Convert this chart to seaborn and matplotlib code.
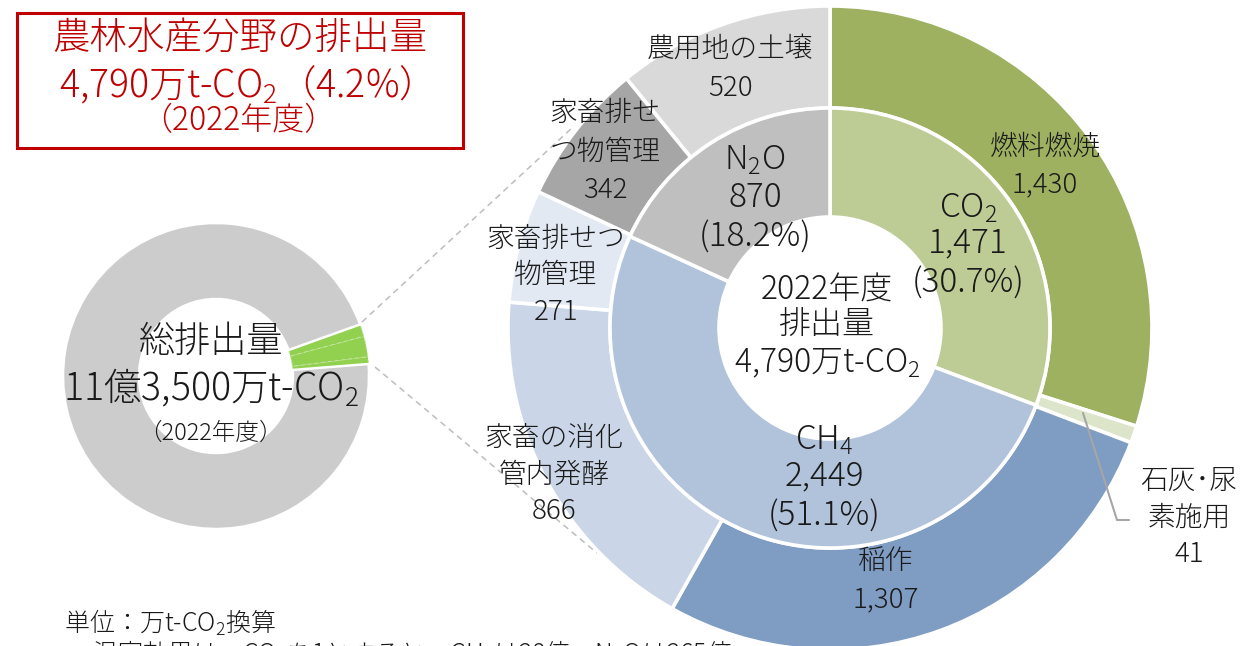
import matplotlib
matplotlib.use('Agg')
import matplotlib.pyplot as plt
import seaborn as sns
from matplotlib.patches import Rectangle

# 単位：万t-CO2換算, 2022年度
national_total = 113500
agri_total = 4790
agri_share = '4.2%'
gas_names = ['CO$_2$', 'CH$_4$', 'N$_2$O']
gas_values = [1471, 2449, 870]
gas_shares = ['30.7%', '51.1%', '18.2%']
source_names = ['燃料燃焼', '石灰･尿\n素施用', '稲作', '家畜の消化\n管内発酵',
                '家畜排せつ\n物管理', '家畜排せ\nつ物管理', '農用地の土壌']
source_values = [1430, 41, 1307, 866, 271, 342, 520]

# colours
gas_colors = ['#BDCB95', '#B0C3DB', '#BFBFBF']
source_colors = ['#9DB160', '#DCE4CA', '#7F9CC2', '#CAD6E7', '#E2E9F3', '#A6A6A6', '#D9D9D9']
left_green = '#92D050'
left_gray = '#CCCCCC'
red = '#C00000'

sns.set_theme(style='white')
plt.rcParams['font.family'] = ['Noto Sans CJK JP', 'DejaVu Sans']
plt.rcParams['font.weight'] = 'light'
plt.rcParams['mathtext.default'] = 'regular'

W, H = 1241, 646
fig = plt.figure(figsize=(W / 100, H / 100), dpi=100)
ax = fig.add_axes([0, 0, 1, 1])


def Y(y):
    return H - y


def lines(x, ys, texts, size, color='#1a1a1a'):
    for y, t in zip(ys, texts):
        ax.text(x, Y(y), t, ha='center', va='center', fontsize=size, color=color, zorder=10)


# left donut: national total with the agriculture share
left_c = (216, Y(376))
left_vals = [gas_values[2], gas_values[1], gas_values[0], national_total - agri_total]
wedges, _ = ax.pie(left_vals, radius=153, center=left_c, startangle=4.5, counterclock=True,
                   colors=[left_green] * 3 + [left_gray],
                   wedgeprops=dict(width=76, edgecolor='white', linewidth=1.8))
for w in wedges[:3]:
    w.set_edgecolor('#C6E6A4')
    w.set_linewidth(0.7)
    w.set_linestyle((0, (4, 3)))

# dashed connectors
ax.plot([362, 573], [Y(322), Y(127)], ls=(0, (4, 3)), color='#BDBDBD', lw=1.1, zorder=0)
ax.plot([375, 597], [Y(367), Y(553)], ls=(0, (4, 3)), color='#BDBDBD', lw=1.1, zorder=0)

# right nested donut
big_c = (830, Y(328))
ax.pie(source_values, radius=322, center=big_c, startangle=90, counterclock=False,
       colors=source_colors, wedgeprops=dict(width=102, edgecolor='white', linewidth=2.6))
ax.pie(gas_values, radius=220, center=big_c, startangle=90, counterclock=False,
       colors=gas_colors, wedgeprops=dict(width=109, edgecolor='white', linewidth=2.6))

# leader line for 石灰・尿素施用
ax.plot([1083, 1117, 1129], [Y(413), Y(520), Y(520)], color='#A6A6A6', lw=1.5, zorder=5)

# outer labels
fs_out = 20
src_pos = [(1045, [147, 184]), (1189, [481, 518, 554]), (886, [562, 599]),
           (554, [438, 475, 511]), (556, [239, 275, 312]), (605, [113, 152, 190]),
           (730, [49, 88])]
for name, val, (x, ys) in zip(source_names, source_values, src_pos):
    lines(x, ys, name.split('\n') + [f'{val:,}'], fs_out)

# inner labels
fs_in = 24
gas_pos = [(968, [208, 243, 283]), (824, [440, 476, 516]), (755, [160, 198, 237])]
for name, val, share, (x, ys) in zip(gas_names, gas_values, gas_shares, gas_pos):
    lines(x, ys, [name, f'{val:,}', f'({share})'], fs_in)

# centre text
lines(827, [290, 326, 363], ['2022年度', '排出量', f'{agri_total:,}万t-CO$_2$'], 23)

# left donut centre text
lines(211, [342], ['総排出量'], 26)
lines(211, [388], ['11億3,500万t-CO$_2$'], 27)
lines(210, [433], ['（2022年度）'], 17)

# title box
ax.add_patch(Rectangle((17, Y(148)), 446, 135, fill=False, edgecolor=red, lw=2.2, zorder=10))
lines(240, [38], ['農林水産分野の排出量'], 27, red)
lines(235, [85], [f'{agri_total:,}万t-CO$_2$（{agri_share}）'], 27, red)
lines(238, [121], ['（2022年度）'], 23, red)

# notes at the bottom
ax.text(64, Y(623), '単位：万t-CO$_2$換算', ha='left', va='center', fontsize=18, color='#1a1a1a')
ax.text(92, Y(639), '温室効果は、CO$_2$を1とすると、CH$_4$は28倍、N$_2$Oは265倍',
        ha='left', va='top', fontsize=18, color='#1a1a1a')

ax.set_xlim(0, W)
ax.set_ylim(0, H)
ax.set_aspect('equal')
ax.axis('off')
fig.savefig('out.png', dpi=100)
